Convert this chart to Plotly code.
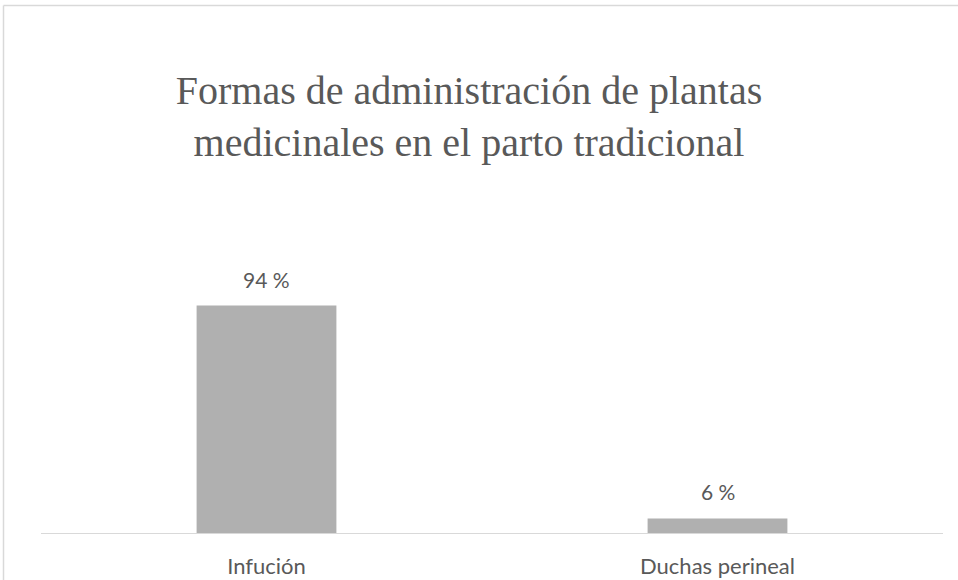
import plotly.graph_objects as go

# Datos: formas de administración de plantas medicinales
categorias = ["Infución", "Duchas perineal"]
porcentajes = [94, 6]
titulo = "Formas de administración de plantas<br>medicinales en el parto tradicional"

W, H = 958, 580
M_L, M_R, M_T, M_B = 41, 15, 291, 47
plot_w = W - M_L - M_R
plot_h = H - M_T - M_B

def px_x(px):
    return (px - M_L) / plot_w

def px_y(py):
    return (H - M_B - py) / plot_h

texto_gris = "#595959"
fuente_sans = "Lato"

fig = go.Figure(
    go.Bar(
        x=categorias,
        y=porcentajes,
        width=0.31,
        marker=dict(color="#B0B0B0", line=dict(width=0)),
        hoverinfo="skip",
    )
)

# Etiquetas de valor sobre cada barra
for cat, val in zip(categorias, porcentajes):
    fig.add_annotation(
        x=cat, y=val, text=f"{val} %", showarrow=False,
        yanchor="bottom", yshift=12,
        font=dict(family=fuente_sans, size=21, color=texto_gris),
    )

# Marco del área del gráfico
fig.add_shape(type="line", xref="paper", yref="paper",
              x0=px_x(3.5), x1=px_x(958), y0=px_y(5.5), y1=px_y(5.5),
              line=dict(color="#D9D9D9", width=1.5))
fig.add_shape(type="line", xref="paper", yref="paper",
              x0=px_x(3.5), x1=px_x(3.5), y0=px_y(5.5), y1=px_y(580),
              line=dict(color="#D9D9D9", width=1.5))

fig.update_layout(
    width=W, height=H,
    margin=dict(l=M_L, r=M_R, t=M_T, b=M_B),
    paper_bgcolor="white", plot_bgcolor="white",
    showlegend=False,
    title=dict(
        text=titulo,
        x=469 / W, xanchor="center",
        y=1 - 104 / H, yanchor="top",
        font=dict(family="Liberation Serif", size=40, color=texto_gris),
    ),
    xaxis=dict(
        showline=True, linecolor="#D9D9D9", linewidth=1,
        ticks="", showgrid=False, zeroline=False,
        tickfont=dict(family=fuente_sans, size=22, color=texto_gris),
        ticklabelstandoff=14, automargin=False,
    ),
    yaxis=dict(
        range=[0, 100], visible=False, showgrid=False, zeroline=False,
        automargin=False,
    ),
)

fig.write_html("out.html")
